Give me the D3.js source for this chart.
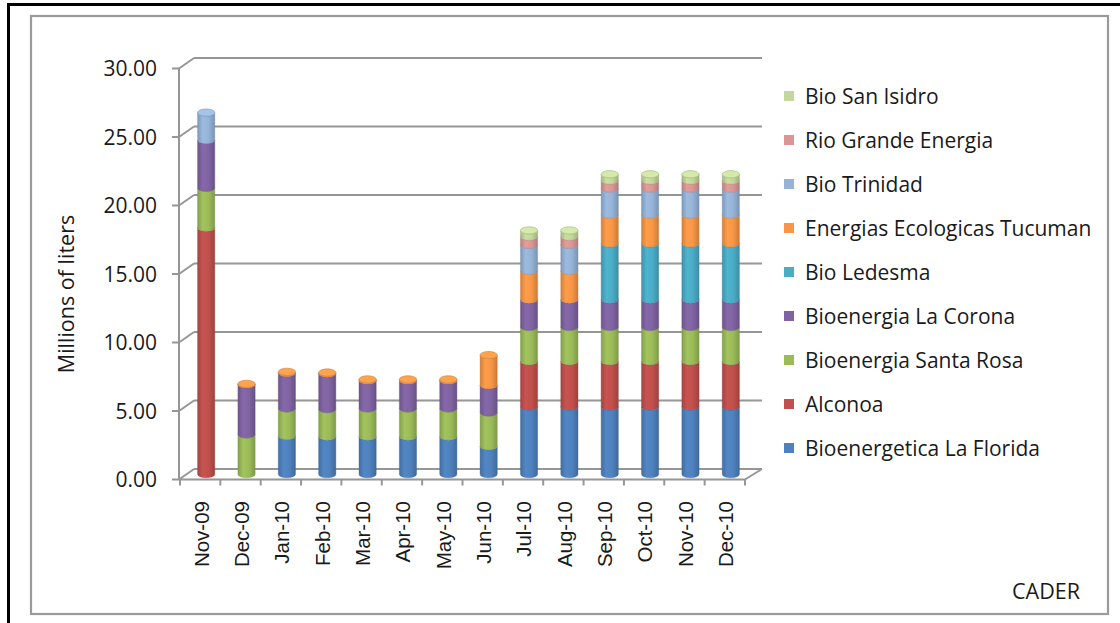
<!DOCTYPE html>
<html>
<head>
<meta charset="utf-8">
<script src="https://cdn.jsdelivr.net/npm/d3@7"></script>
<style>
  body { margin: 0; background: #fff; }
  text { fill: #1a1a1a; }
</style>
</head>
<body>
<div id="chart"></div>
<script>
// months on the x axis
const months = ['Nov-09','Dec-09','Jan-10','Feb-10','Mar-10','Apr-10','May-10',
                'Jun-10','Jul-10','Aug-10','Sep-10','Oct-10','Nov-10','Dec-10'];

// series, bottom of the stack first
const seriesNames = ['Bioenergetica La Florida','Alconoa','Bioenergia Santa Rosa',
                     'Bioenergia La Corona','Bio Ledesma','Energias Ecologicas Tucuman',
                     'Bio Trinidad','Rio Grande Energia','Bio San Isidro'];
const seriesColors = ['#4f81bd','#c0504d','#9bbb59','#8064a2','#4bacc6',
                      '#f79646','#95b3d7','#da9694','#c3d69b'];

// millions of liters
const laFlorida  = [0, 0, 2.8, 2.75, 2.75, 2.75, 2.75, 2.05, 4.95, 4.95, 4.95, 4.95, 4.95, 4.95];
const alconoa    = [18.0, 0, 0, 0, 0, 0, 0, 0, 3.3, 3.3, 3.3, 3.3, 3.3, 3.3];
const santaRosa  = [2.9, 2.9, 2.0, 2.0, 2.05, 2.05, 2.05, 2.45, 2.5, 2.5, 2.5, 2.5, 2.5, 2.5];
const laCorona   = [3.5, 3.65, 2.6, 2.6, 2.05, 2.05, 2.05, 2.0, 2.0, 2.0, 2.0, 2.0, 2.0, 2.0];
const ledesma    = [0, 0, 0, 0, 0, 0, 0, 0, 0, 0, 4.1, 4.1, 4.1, 4.1];
const tucuman    = [0, 0.05, 0.08, 0.08, 0.08, 0.08, 0.08, 2.2, 2.1, 2.1, 2.1, 2.1, 2.1, 2.1];
const trinidad   = [2.0, 0, 0, 0, 0, 0, 0, 0, 1.9, 1.9, 1.9, 1.9, 1.9, 1.9];
const rioGrande  = [0, 0, 0, 0, 0, 0, 0, 0, 0.6, 0.6, 0.6, 0.6, 0.6, 0.6];
const sanIsidro  = [0, 0, 0, 0, 0, 0, 0, 0, 0.45, 0.45, 0.45, 0.45, 0.45, 0.45];

const seriesValues = [laFlorida, alconoa, santaRosa, laCorona, ledesma,
                      tucuman, trinidad, rioGrande, sanIsidro];

const yTicks = [0, 5, 10, 15, 20, 25, 30];

const W = 1120, H = 623;
const depth = {dx: 14, dy: 10.5};   // 3d offset of the back wall
const font = "'Open Sans', sans-serif";

const svg = d3.select('#chart').append('svg')
    .attr('width', W).attr('height', H);

// frames
svg.append('rect')
    .attr('x', 8.5).attr('y', 4.5).attr('width', W + 20).attr('height', H + 20)
    .attr('fill', '#fff').attr('stroke', '#000').attr('stroke-width', 3);
svg.append('rect')
    .attr('x', 31).attr('y', 16).attr('width', 1077).attr('height', 598)
    .attr('fill', '#fff').attr('stroke', '#9a9a9a').attr('stroke-width', 2.2);

// scales (front plane)
const x = d3.scaleBand().domain(months).range([180, 745]);
const yFront = d3.scaleLinear().domain([0, 30]).range([479.5, 68.5]);
const yBack = v => yFront(v) - depth.dy;
const yMid = v => yFront(v) - depth.dy / 2;

const grid = svg.append('g').attr('stroke', '#969696').attr('stroke-width', 2).attr('fill', 'none');

// back wall gridlines + diagonals into the wall
yTicks.forEach(t => {
    grid.append('line')
        .attr('x1', 180 + depth.dx).attr('x2', x.range()[1] + depth.dx + 3)
        .attr('y1', yBack(t)).attr('y2', yBack(t));
    grid.append('line')
        .attr('x1', 179).attr('x2', 180 + depth.dx)
        .attr('y1', yFront(t)).attr('y2', yBack(t));
});
// floor diagonal on the right
grid.append('line')
    .attr('x1', x.range()[1]).attr('y1', yFront(0))
    .attr('x2', x.range()[1] + depth.dx + 3).attr('y2', yBack(0));

// stacked cylinders
const rows = months.map((m, i) => {
    const r = {month: m};
    seriesNames.forEach((s, j) => r[s] = seriesValues[j][i]);
    return r;
});
const stacked = d3.stack().keys(seriesNames)(rows);

const defs = svg.append('defs');
seriesColors.forEach((c, j) => {
    const g = defs.append('linearGradient').attr('id', 'cyl' + j)
        .attr('x1', '0%').attr('x2', '100%').attr('y1', '0%').attr('y2', '0%');
    const base = d3.color(c);
    g.append('stop').attr('offset', '0%').attr('stop-color', base.darker(0.45));
    g.append('stop').attr('offset', '30%').attr('stop-color', base.brighter(0.12));
    g.append('stop').attr('offset', '65%').attr('stop-color', base);
    g.append('stop').attr('offset', '100%').attr('stop-color', base.darker(0.55));
});

const rx = 8.6, ry = 3.6;
const barX = m => x(m) + x.bandwidth() / 2 + depth.dx / 2 - 1;

const bars = svg.append('g');
stacked.forEach((layer, j) => {
    layer.forEach((d, i) => {
        if (d[1] - d[0] <= 0) return;
        const cx = barX(months[i]);
        const y0 = yMid(d[1]), y1 = yMid(d[0]);
        bars.append('path')
            .attr('d', `M${cx - rx},${y0} A${rx},${ry} 0 0 0 ${cx + rx},${y0}` +
                       ` L${cx + rx},${y1} A${rx},${ry} 0 0 1 ${cx - rx},${y1} Z`)
            .attr('fill', `url(#cyl${j})`)
            .attr('stroke', d3.color(seriesColors[j]).darker(0.6))
            .attr('stroke-width', 0.4);
    });
});

// top caps
months.forEach((m, i) => {
    let top = -1;
    stacked.forEach((layer, j) => { if (layer[i][1] - layer[i][0] > 0) top = j; });
    if (top < 0) return;
    bars.append('ellipse')
        .attr('cx', barX(m)).attr('cy', yMid(stacked[top][i][1]))
        .attr('rx', rx).attr('ry', ry)
        .attr('fill', d3.color(seriesColors[top]).brighter(0.25))
        .attr('stroke', d3.color(seriesColors[top]).darker(0.5))
        .attr('stroke-width', 0.6);
});

// front axes
const axes = svg.append('g').attr('stroke', '#969696').attr('stroke-width', 2).attr('fill', 'none');
axes.append('line').attr('x1', 179).attr('x2', 179)
    .attr('y1', yFront(30)).attr('y2', yFront(0));
axes.append('line').attr('x1', 179).attr('x2', x.range()[1] + 1)
    .attr('y1', yFront(0)).attr('y2', yFront(0));
yTicks.forEach(t => {
    axes.append('line').attr('x1', 172).attr('x2', 179)
        .attr('y1', yFront(t)).attr('y2', yFront(t));
});
months.concat([null]).forEach((m, i) => {
    const xx = x.range()[0] + i * x.step();
    axes.append('line').attr('x1', xx).attr('x2', xx)
        .attr('y1', yFront(0)).attr('y2', yFront(0) + 6);
});

// y tick labels
svg.append('g').selectAll('text').data(yTicks).join('text')
    .attr('x', 157).attr('y', d => yFront(d)).attr('dy', '0.36em')
    .attr('text-anchor', 'end')
    .style('font-family', font).style('font-size', '21px')
    .text(d => d3.format('.2f')(d));

// x tick labels
svg.append('g').selectAll('text').data(months).join('text')
    .attr('transform', d => `translate(${x(d) + x.bandwidth() / 2 + 1},501) rotate(-90)`)
    .attr('dy', '0.36em')
    .attr('text-anchor', 'end')
    .style('font-family', "'Liberation Sans', Arial, sans-serif").style('font-size', '20.5px')
    .text(d => d);

// axis title
svg.append('text')
    .attr('transform', 'translate(66,294) rotate(-90)')
    .attr('dy', '0.36em')
    .attr('text-anchor', 'middle')
    .style('font-family', font).style('font-size', '21.5px')
    .text('Millions of liters');

// legend, top entry is the last series
const legend = svg.append('g');
seriesNames.slice().reverse().forEach((s, i) => {
    const j = seriesNames.length - 1 - i;
    const cy = 96 + i * 44;
    legend.append('rect')
        .attr('x', 784).attr('y', cy - 5).attr('width', 10).attr('height', 10)
        .attr('fill', seriesColors[j]);
    legend.append('text')
        .attr('x', 805).attr('y', cy).attr('dy', '0.36em')
        .style('font-family', font).style('font-size', '21px')
        .text(s);
});

svg.append('text')
    .attr('x', 1080).attr('y', 591).attr('dy', '0.36em')
    .attr('text-anchor', 'end')
    .style('font-family', font).style('font-size', '21.5px')
    .text('CADER');
</script>
</body>
</html>
